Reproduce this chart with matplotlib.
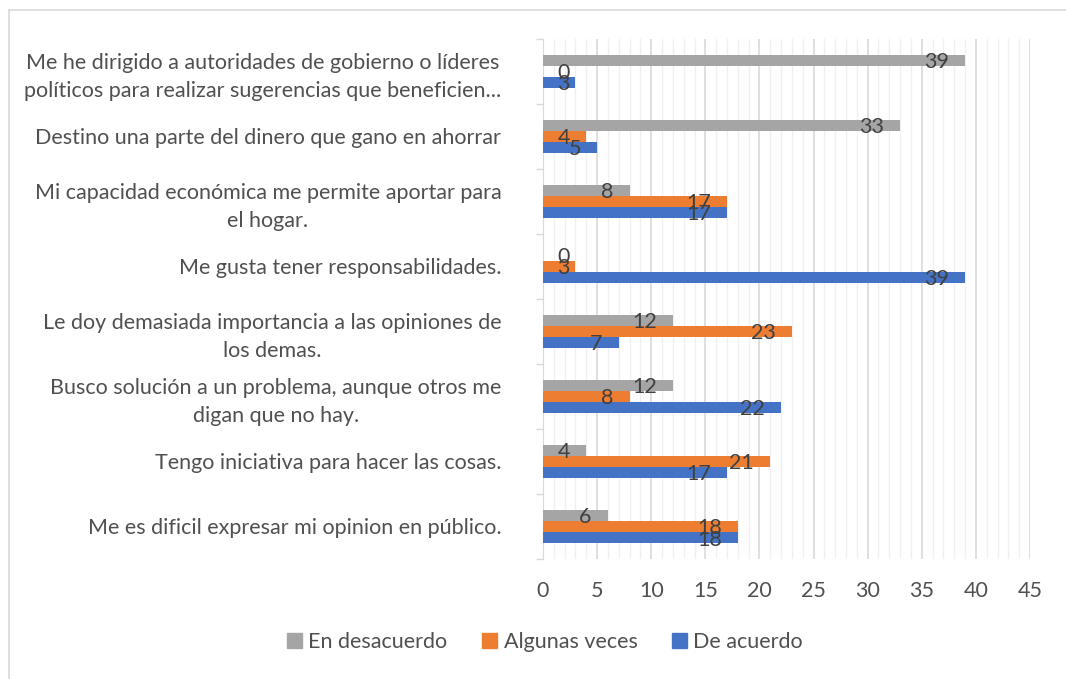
import matplotlib.pyplot as plt
from matplotlib.patches import Patch
from matplotlib.lines import Line2D
import numpy as np

plt.rcParams['font.family'] = ['Lato', 'DejaVu Sans']

# categories listed top to bottom as in the chart
categories = [
    "Me he dirigido a autoridades de gobierno o líderes\npolíticos para realizar sugerencias que beneficien...",
    "Destino una parte del dinero que gano en ahorrar",
    "Mi capacidad económica me permite aportar para\nel hogar.",
    "Me gusta tener responsabilidades.",
    "Le doy demasiada importancia a las opiniones de\nlos demas.",
    "Busco solución a un problema, aunque otros me\ndigan que no hay.",
    "Tengo iniciativa para hacer las cosas.",
    "Me es dificil expresar mi opinion en público.",
]
en_desacuerdo = [39, 33, 8, 0, 12, 12, 4, 6]
algunas_veces = [0, 4, 17, 3, 23, 8, 21, 18]
de_acuerdo = [3, 5, 17, 39, 7, 22, 17, 18]

series = [
    ("En desacuerdo", en_desacuerdo, "#A5A5A5"),
    ("Algunas veces", algunas_veces, "#ED7D31"),
    ("De acuerdo", de_acuerdo, "#4472C4"),
]

text_col = "#505050"
fs = 15.5

fig = plt.figure(figsize=(10.66, 6.79), dpi=100)
ax = fig.add_axes([543 / 1066, 1 - 559 / 679, 487 / 1066, 520 / 679])

n = len(categories)
ypos = np.arange(n)[::-1]  # first category at the top
h = 0.17
offsets = [h, 0, -h]

for (name, vals, col), off in zip(series, offsets):
    ax.barh(ypos + off, vals, height=h, color=col, label=name, zorder=3)
    for y, v in zip(ypos, vals):
        ax.text(max(v - 1.5, 2.5), y + off - 0.03, str(v), ha="right", va="center",
                fontsize=fs, color="#404040", zorder=4)

ax.set_xlim(0, 45)
ax.set_ylim(-0.5, n - 0.5)
ax.set_xticks(np.arange(0, 46, 5))
ax.set_xticks(np.arange(0, 46, 1), minor=True)
ax.set_yticks(ypos)
ax.set_yticklabels(categories, multialignment="center", linespacing=1.45)
ax.set_yticks(np.arange(-0.5, n, 1), minor=True)

ax.tick_params(axis="x", which="both", length=0, pad=16, labelsize=fs, labelcolor=text_col)
ax.tick_params(axis="y", which="major", length=0, pad=30, labelsize=fs, labelcolor=text_col)
ax.tick_params(axis="y", which="minor", length=5, color="#d9d9d9", width=1)

ax.grid(axis="x", which="major", color="#d9d9d9", linewidth=1.2, zorder=0)
ax.grid(axis="x", which="minor", color="#f0f0f0", linewidth=1.0, zorder=0)
ax.set_axisbelow(True)

for s in ["top", "right", "bottom"]:
    ax.spines[s].set_visible(False)
ax.spines["left"].set_color("#d9d9d9")

handles = [Patch(color=c, label=nm) for nm, _, c in series]
fig.legend(handles=handles, loc="center", bbox_to_anchor=(545 / 1066, 1 - 642 / 679),
           ncol=3, frameon=False, fontsize=fs, labelcolor=text_col,
           handlelength=0.7, handleheight=0.7, handletextpad=0.3, columnspacing=1.6)

# outer chart border (top and left visible)
fig.add_artist(Line2D([8.5 / 1066, 1], [1 - 9.5 / 679, 1 - 9.5 / 679], color="#d9d9d9", lw=1.2))
fig.add_artist(Line2D([8.5 / 1066, 8.5 / 1066], [0, 1 - 9.5 / 679], color="#d9d9d9", lw=1.2))

fig.savefig("out.png", dpi=100)
